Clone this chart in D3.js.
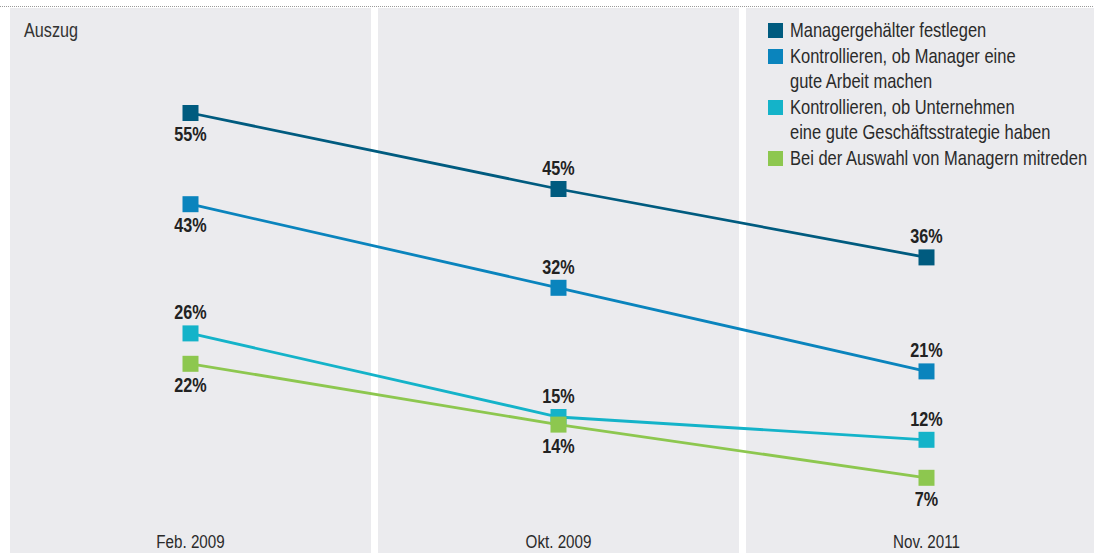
<!DOCTYPE html>
<html>
<head>
<meta charset="utf-8">
<script src="https://cdn.jsdelivr.net/npm/d3@7"></script>
<style>
  html, body { margin: 0; padding: 0; background: #fff; }
  svg { display: block; }
  text { font-family: "Liberation Sans", Arial, sans-serif; }
</style>
</head>
<body>
<svg id="chart" width="1094" height="553"></svg>
<script>
// Survey periods (x categories)
const periods = ["Feb. 2009", "Okt. 2009", "Nov. 2011"];

// Series names (legend lines split where they wrap)
const seriesNames = [
  ["Managergehälter festlegen"],
  ["Kontrollieren, ob Manager eine", "gute Arbeit machen"],
  ["Kontrollieren, ob Unternehmen", "eine gute Geschäftsstrategie haben"],
  ["Bei der Auswahl von Managern mitreden"]
];

// Values in percent, one array per series
const gehaelter   = [55, 45, 36];
const arbeit      = [43, 32, 21];
const strategie   = [26, 15, 12];
const auswahl     = [22, 14, 7];

// Where each value label sits relative to its marker (+1 below, -1 above)
const labelSide = [
  [ 1, -1, -1],
  [ 1, -1, -1],
  [-1, -1, -1],
  [ 1,  1,  1]
];

const colors = ["#005b7f", "#0a84bd", "#14b3c9", "#8dc74f"];
const seriesValues = [gehaelter, arbeit, strategie, auswahl];

const svg = d3.select("#chart");
const W = 1094, H = 553;

// Narrow lettering: horizontally compress text placed at (x, y)
function narrow(sel, x, y, k) {
  return sel.attr("x", 0).attr("y", 0)
    .attr("transform", (d, i) => {
      const px = typeof x === "function" ? x(d, i) : x;
      const py = typeof y === "function" ? y(d, i) : y;
      return `translate(${px},${py}) scale(${k},1)`;
    });
}

const x = d3.scaleBand()
  .domain(periods)
  .range([10, 10 + 3 * 368 - 7])
  .paddingInner(7 / 368)
  .paddingOuter(0);

const y = d3.scaleLinear().domain([0, 55]).range([531, 113]);

// Column panels
svg.append("g").selectAll("rect")
  .data(periods)
  .join("rect")
  .attr("x", d => x(d))
  .attr("y", 8)
  .attr("width", x.bandwidth())
  .attr("height", H - 8)
  .attr("fill", "#ebebee");

// Dotted rule along the top
svg.append("line")
  .attr("x1", 0).attr("x2", W)
  .attr("y1", 6.5).attr("y2", 6.5)
  .attr("stroke", "#9a9a9a")
  .attr("stroke-width", 1)
  .attr("stroke-dasharray", "1,1");

// Note in the top-left corner
narrow(svg.append("text"), 24, 37, 0.81)
  .attr("font-size", 20)
  .attr("fill", "#333")
  .text("Auszug");

// Period labels along the bottom
const xAxis = d3.axisBottom(x).tickSize(0).tickPadding(0);
const axisG = svg.append("g")
  .attr("transform", "translate(0,548)")
  .call(xAxis);
axisG.select(".domain").remove();
axisG.selectAll(".tick text")
  .attr("font-size", 19)
  .attr("fill", "#2a2a2a")
  .attr("dy", null)
  .attr("y", 0)
  .attr("transform", "scale(0.8,1)")
  .style("font-family", "'Liberation Sans', Arial, sans-serif");

const cx = d => x(d) + x.bandwidth() / 2;

const line = d3.line()
  .x((d, i) => cx(periods[i]))
  .y(d => y(d));

const series = svg.append("g").selectAll("g")
  .data(seriesValues)
  .join("g");

series.append("path")
  .attr("d", d => line(d))
  .attr("fill", "none")
  .attr("stroke", (d, i) => colors[i])
  .attr("stroke-width", 2.8);

const mk = 16;
series.each(function (vals, si) {
  const g = d3.select(this);
  g.selectAll("rect")
    .data(vals)
    .join("rect")
    .attr("x", (d, i) => cx(periods[i]) - mk / 2)
    .attr("y", d => y(d) - mk / 2)
    .attr("width", mk)
    .attr("height", mk)
    .attr("fill", colors[si]);

  narrow(
    g.selectAll("text").data(vals).join("text"),
    (d, i) => cx(periods[i]),
    (d, i) => y(d) + (labelSide[si][i] > 0 ? 28 : -14),
    0.77
  )
    .attr("text-anchor", "middle")
    .attr("font-size", 21)
    .attr("font-weight", "bold")
    .attr("fill", "#222")
    .text(d => d + "%");
});

// Legend
const legend = svg.append("g");
let ly = 23;
seriesNames.forEach((lines, i) => {
  legend.append("rect")
    .attr("x", 768).attr("y", ly)
    .attr("width", 15).attr("height", 15)
    .attr("fill", colors[i]);
  lines.forEach((t, j) => {
    narrow(legend.append("text"), 790, ly + 14 + j * 25, 0.825)
      .attr("font-size", 20)
      .attr("fill", "#2a2a2a")
      .text(t);
  });
  ly += lines.length * 25 + 1;
});
</script>
</body>
</html>
